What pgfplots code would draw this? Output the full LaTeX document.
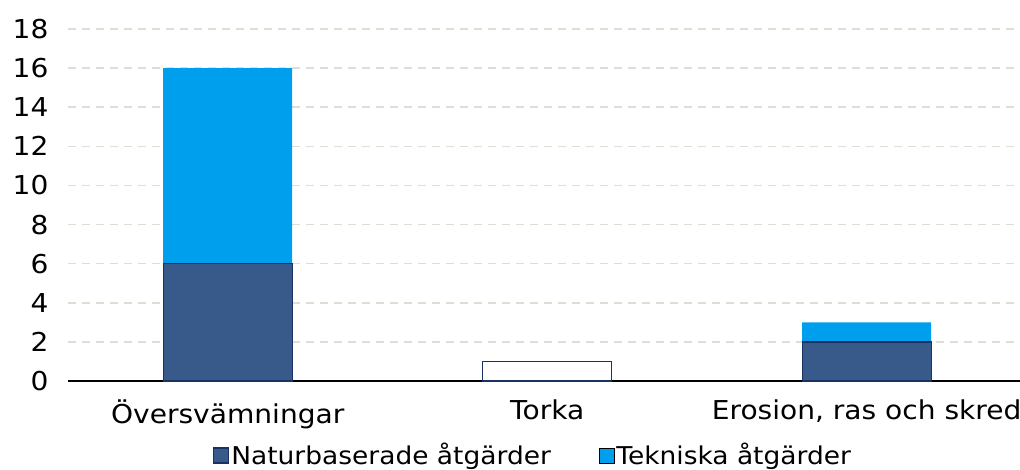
\documentclass[border=0pt]{standalone}
\usepackage{pgfplots}
\pgfplotsset{compat=1.18}
\usepackage{fontspec}
\setmainfont{DejaVu Sans}[FakeStretch=1.08]
\definecolor{natur}{RGB}{55,90,138}
\definecolor{naturdark}{RGB}{24,50,100}
\definecolor{tekn}{RGB}{0,159,238}
\definecolor{gridc}{RGB}{224,221,210}
\begin{document}
\begin{tikzpicture}[x=1pt,y=1pt]
\begin{axis}[
  name=ax,
  scale only axis,
  width=952pt, height=352pt,
  ybar stacked,
  bar width=129pt,
  xmin=-0.5, xmax=2.48,
  ymin=0, ymax=18,
  ytick={0,2,...,18},
  xtick={0,1,2},
  xticklabels={Översvämningar,Torka,{Erosion, ras och skred}},
  axis x line*=bottom,
  axis y line*=left,
  x axis line style={draw=black, line width=1.2pt, -},
  y axis line style={draw=none},
  major tick length=0pt,
  ymajorgrids,
  grid style={gridc, line width=1.6pt, dash pattern=on 8pt off 6pt},
  tick label style={font=\fontsize{26}{30}\selectfont},
  /pgf/number format/assume math mode=true,
  yticklabel style={xshift=-16pt},
  xticklabel style={yshift=-15pt},
  legend style={draw=none, at={(0.5,-0.21)}, anchor=center, xshift=-11pt, font=\fontsize{24.5}{28}\selectfont, legend columns=-1, inner sep=0pt},
  legend cell align=left,
  /tikz/every even column/.append style={column sep=46pt},
  legend image code/.code={\draw[#1] (-4pt,-8pt) rectangle (11pt,7pt);},
  clip=false,
]
\addplot[fill=white, draw=naturdark, line width=1.3pt, forget plot] coordinates {(0,0) (1,1) (2,0)};
\addplot[fill=natur, draw=naturdark, line width=1.3pt] coordinates {(0,6) (1,0) (2,2)};
\addplot[fill=tekn, draw=none] coordinates {(0,10) (1,0) (2,1)};
\legend{Naturbaserade åtgärder, Tekniska åtgärder}
\end{axis}
\pgfresetboundingbox
\path[use as bounding box] (ax.south west) ++(-68pt,-89pt) rectangle ++(1020pt,470pt);
\end{tikzpicture}
\end{document}
